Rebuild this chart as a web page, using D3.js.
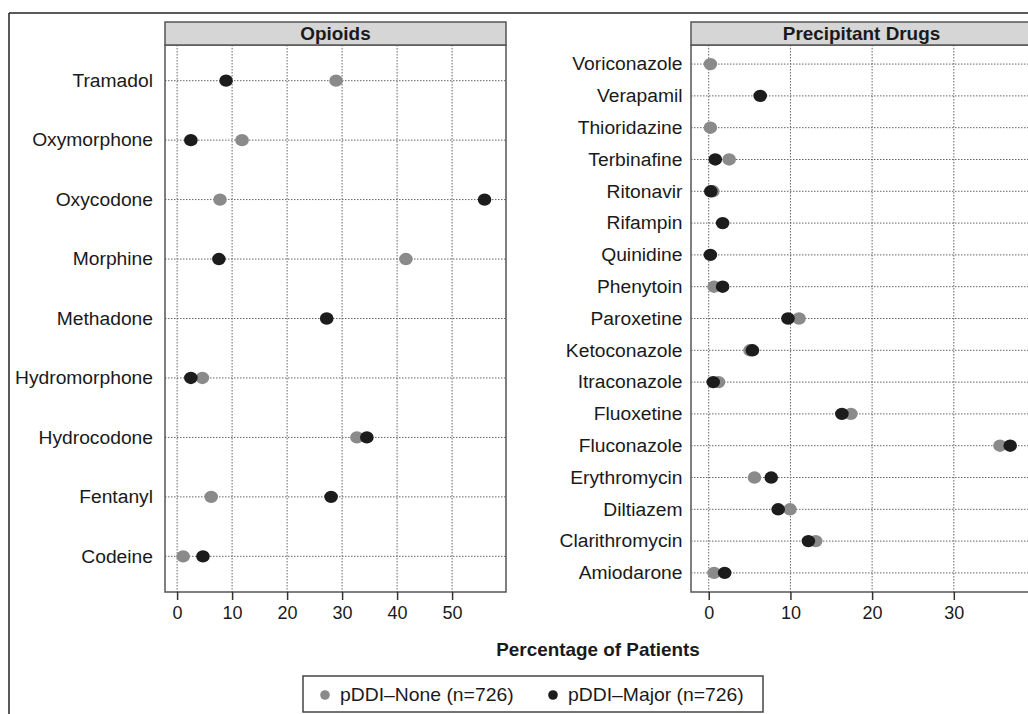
<!DOCTYPE html>
<html><head><meta charset="utf-8">
<script src="https://cdn.jsdelivr.net/npm/d3@7"></script>
<style>
html,body{margin:0;padding:0;background:#fff;}
svg{display:block;font-family:"Liberation Sans",Arial,Helvetica,sans-serif;}
</style></head>
<body>
<script>
// ---- data ----
const opioids = ["Tramadol","Oxymorphone","Oxycodone","Morphine","Methadone","Hydromorphone","Hydrocodone","Fentanyl","Codeine"];
const opioidNone  = [28.9, 11.8, 7.8, 41.6, null, 4.6, 32.7, 6.2, 1.1];
const opioidMajor = [8.9, 2.5, 55.9, 7.6, 27.2, 2.5, 34.5, 28.0, 4.7];

const precipitants = ["Voriconazole","Verapamil","Thioridazine","Terbinafine","Ritonavir","Rifampin","Quinidine","Phenytoin","Paroxetine","Ketoconazole","Itraconazole","Fluoxetine","Fluconazole","Erythromycin","Diltiazem","Clarithromycin","Amiodarone"];
const precipNone  = [0.2, null, 0.2, 2.5, 0.5, null, null, 0.65, 11.05, 5.05, 1.2, 17.4, 35.65, 5.6, 9.95, 13.1, 0.65];
const precipMajor = [null, 6.3, null, 0.8, 0.25, 1.7, 0.2, 1.7, 9.7, 5.35, 0.55, 16.3, 36.9, 7.65, 8.5, 12.2, 1.95];

const opioidTicks = [0,10,20,30,40,50];
const precipTicks = [0,10,20,30];
const seriesNames = ["pDDI\u2013None (n=726)","pDDI\u2013Major (n=726)"];
const seriesColors = ["#8a8a8a","#1c1c1c"];

// ---- drawing ----
const W = 1028, H = 714;
const svg = d3.select("body").append("svg").attr("width",W).attr("height",H);

// text helper: horizontally widened glyphs to match the reference face
function txt(parent, x, y, s, opts){
  opts = opts || {};
  const sx = opts.sx || 1.07;
  return parent.append("text")
    .attr("transform",`translate(${x},${y}) scale(${sx},1)`)
    .attr("text-anchor",opts.anchor||"start")
    .attr("font-size",opts.size||18)
    .attr("font-weight",opts.weight||"normal")
    .attr("fill","#1a1a1a").text(s);
}

// outer frame
svg.append("line").attr("x1",9).attr("x2",W+5).attr("y1",13).attr("y2",13).attr("stroke","#222").attr("stroke-width",1.5);
svg.append("line").attr("x1",9).attr("x2",9).attr("y1",13).attr("y2",H+5).attr("stroke","#222").attr("stroke-width",1.5);

const stripTop = 22, stripBot = 45, panelBot = 592;

function panel(cfg){
  const x = d3.scaleLinear().domain(cfg.domain).range([cfg.x0, cfg.x1]);
  const y = d3.scalePoint().domain(cfg.cats).range([stripBot, panelBot]).padding(0.6);
  const g = svg.append("g");
  // grid
  g.selectAll(".vg").data(cfg.ticks).join("line")
    .attr("x1",d=>x(d)).attr("x2",d=>x(d)).attr("y1",stripBot).attr("y2",panelBot)
    .attr("stroke","#666").attr("stroke-width",1).attr("stroke-dasharray","1.5,1.5");
  g.selectAll(".hg").data(cfg.cats).join("line")
    .attr("x1",cfg.x0).attr("x2",cfg.x1).attr("y1",d=>y(d)).attr("y2",d=>y(d))
    .attr("stroke","#666").attr("stroke-width",1).attr("stroke-dasharray","1.5,1.5");
  // points
  const series = [cfg.none, cfg.major];
  series.forEach((vals,si)=>{
    g.selectAll(".p"+si).data(cfg.cats.map((c,i)=>({c, v:vals[i]})).filter(d=>d.v!=null)).join("ellipse")
      .attr("cx",d=>x(d.v)).attr("cy",d=>y(d.c)).attr("rx",6.8).attr("ry",6.2)
      .attr("fill",seriesColors[si]);
  });
  // border
  g.append("rect").attr("x",cfg.x0).attr("y",stripBot).attr("width",cfg.x1-cfg.x0).attr("height",panelBot-stripBot)
    .attr("fill","none").attr("stroke","#555").attr("stroke-width",1.5);
  // strip
  g.append("rect").attr("x",cfg.x0).attr("y",stripTop).attr("width",cfg.x1-cfg.x0).attr("height",stripBot-stripTop)
    .attr("fill","#d6d6d6").attr("stroke","#555").attr("stroke-width",1.5);
  txt(g,(cfg.x0+cfg.x1)/2,(stripTop+stripBot)/2+6.5,cfg.title,{anchor:"middle",weight:"bold",sx:1.05});
  // y labels
  cfg.cats.forEach(c=>txt(g,cfg.x0-cfg.gap,y(c)+6.3,c,{anchor:"end"}));
  // x axis
  const ax = g.append("g").attr("transform",`translate(0,${panelBot})`)
    .call(d3.axisBottom(x).tickValues(cfg.ticks).tickSize(8).tickPadding(6).tickFormat(d3.format("d")));
  ax.select(".domain").remove();
  ax.selectAll(".tick line").attr("stroke","#333").attr("stroke-width",1.5);
  ax.selectAll(".tick text").attr("font-size",18).attr("fill","#1a1a1a").attr("font-family","Liberation Sans, Arial, sans-serif");
}

panel({title:"Opioids", cats:opioids, none:opioidNone, major:opioidMajor, ticks:opioidTicks,
       domain:[-2.2,59.8], x0:165, x1:506, gap:12});
panel({title:"Precipitant Drugs", cats:precipitants, none:precipNone, major:precipMajor, ticks:precipTicks,
       domain:[-2.17,39.57], x0:691, x1:1032, gap:8.5});

// axis title
txt(svg,598,656,"Percentage of Patients",{anchor:"middle",weight:"bold",sx:1.05});

// legend
const lg = svg.append("g");
lg.append("rect").attr("x",303).attr("y",676).attr("width",460).attr("height",36)
  .attr("fill","#fff").attr("stroke","#444").attr("stroke-width",1.5);
const legX = [325, 553];
seriesNames.forEach((n,i)=>{
  lg.append("circle").attr("cx",legX[i]).attr("cy",695).attr("r",4.8).attr("fill",seriesColors[i]);
  txt(lg,legX[i]+15,701,n,{sx:1.075});
});
</script>
</body></html>
